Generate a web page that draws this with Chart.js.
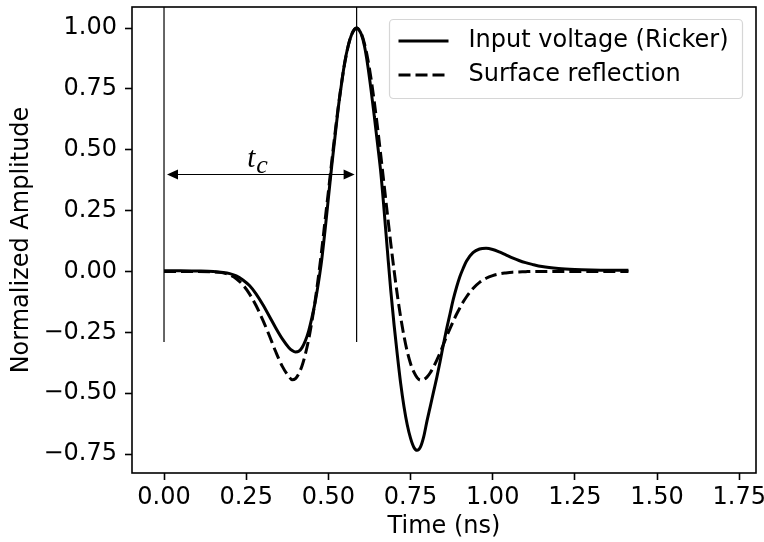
<!DOCTYPE html>
<html><head><meta charset="utf-8">
<script src="https://cdn.jsdelivr.net/npm/chart.js@4/dist/chart.umd.min.js"></script>
<style>html,body{margin:0;padding:0;background:#fff}#wrap{width:764px;height:542px}canvas{display:block}</style>
</head><body><div id="wrap"><canvas id="c" width="764" height="542"></canvas></div>
<script>
const timeNs = [0, 0.05, 0.10, 0.15, 0.18, 0.20, 0.22, 0.24, 0.26, 0.28, 0.30, 0.32, 0.34, 0.36, 0.38,
  0.39, 0.40, 0.41, 0.42, 0.43, 0.44, 0.45, 0.46, 0.47, 0.48, 0.49, 0.50, 0.51, 0.52, 0.53, 0.54, 0.55, 0.56, 0.57, 0.58,
  0.586,
  0.59, 0.60, 0.61, 0.62, 0.63, 0.64, 0.65, 0.66, 0.67, 0.68, 0.69, 0.70, 0.71, 0.72, 0.73, 0.74, 0.75, 0.76, 0.77, 0.78,
  0.79, 0.80, 0.81, 0.82, 0.83, 0.84, 0.85, 0.86, 0.87, 0.88, 0.89, 0.90, 0.91, 0.92,
  0.94, 0.96, 0.98, 1.00, 1.02, 1.04, 1.06, 1.08, 1.10, 1.12,
  1.15, 1.20, 1.25, 1.30, 1.35, 1.413];
const inputVoltage = [0.003, 0.003, 0.002, 0.000,
  -0.004, -0.009, -0.018, -0.035, -0.058, -0.092, -0.135, -0.183, -0.232, -0.277, -0.313,
  -0.325, -0.331, -0.328, -0.313, -0.285, -0.245, -0.19, -0.125, -0.045, 0.05, 0.17, 0.30, 0.43, 0.55, 0.67, 0.77, 0.86, 0.925, 0.97, 0.995,
  1.0,
  0.997, 0.975, 0.925, 0.845, 0.745, 0.635, 0.52, 0.40, 0.245, 0.08, -0.08, -0.22, -0.345, -0.46, -0.555, -0.63, -0.685, -0.722, -0.735, -0.722,
  -0.68, -0.615, -0.555, -0.495, -0.435, -0.37, -0.30, -0.235, -0.175, -0.115, -0.065, -0.022, 0.012, 0.042,
  0.077, 0.092, 0.095, 0.09, 0.08, 0.068, 0.056, 0.045, 0.036, 0.029,
  0.02, 0.012, 0.008, 0.006, 0.005, 0.005];
const surfaceReflection = [0.0, 0.0, 0.0, -0.002,
  -0.006, -0.014, -0.03, -0.055, -0.092, -0.14, -0.198, -0.262, -0.33, -0.39, -0.432,
  -0.445, -0.44, -0.42, -0.387, -0.34, -0.28, -0.205, -0.118, -0.02, 0.09, 0.21, 0.327, 0.447, 0.564, 0.674, 0.773, 0.857, 0.924, 0.971, 0.996,
  1.0,
  0.998, 0.978, 0.935, 0.872, 0.791, 0.694, 0.587, 0.471, 0.351, 0.231, 0.114, 0.004, -0.098, -0.188, -0.265, -0.329, -0.378, -0.413, -0.436, -0.446,
  -0.444, -0.434, -0.416, -0.392, -0.364, -0.334, -0.30, -0.266, -0.235, -0.205, -0.176, -0.15, -0.126, -0.105,
  -0.07, -0.045, -0.028, -0.017, -0.01, -0.006, -0.003, -0.002, -0.001, 0.0,
  0.0, 0.0, 0.0, 0.0, 0.0, 0.0];
const seriesLabels = ['Input voltage (Ricker)', 'Surface reflection'];
const xTicks = [0, 0.25, 0.5, 0.75, 1.0, 1.25, 1.5, 1.75];
const yTicks = [-0.75, -0.5, -0.25, 0, 0.25, 0.5, 0.75, 1.0];
const xRange = [-0.0974, 1.8011];
const yRange = [-0.828, 1.0863];
const markerTimes = [0, 0.586];
const markerSpan = [-0.29, 1.2];
const arrowLevel = 0.4;
const arrowLabelPos = [0.283, 0.43];

const FONT = 'DejaVu Sans';
const FS = 24;
const fmt = v => v.toFixed(2).replace('-', '\u2212');

function pts(ys) { return timeNs.map((t, i) => ({x: t, y: ys[i]})); }

const datasets = [
  {label: seriesLabels[0], data: pts(inputVoltage), borderColor: '#000', borderWidth: 3, pointRadius: 0, cubicInterpolationMode: 'monotone', fill: false},
  {label: seriesLabels[1], data: pts(surfaceReflection), borderColor: '#000', borderWidth: 3, borderDash: [12, 5], pointRadius: 0, cubicInterpolationMode: 'monotone', fill: false}
];
markerTimes.forEach(t => datasets.push({
  label: '_marker', data: [{x: t, y: markerSpan[0]}, {x: t, y: markerSpan[1]}],
  borderColor: '#000', borderWidth: 1.2, pointRadius: 0, fill: false
}));

const framePlugin = {
  id: 'frame',
  afterDraw(chart) {
    const {ctx, chartArea: a, scales: {x, y}} = chart;
    ctx.save();
    // arrow
    const yA = Math.round(y.getPixelForValue(arrowLevel)) + 0.5;
    const x0 = x.getPixelForValue(markerTimes[0]) + 3;
    const x1 = x.getPixelForValue(markerTimes[1]) - 2;
    ctx.strokeStyle = '#000'; ctx.fillStyle = '#000'; ctx.lineWidth = 1.2;
    ctx.beginPath(); ctx.moveTo(x0 + 6, yA); ctx.lineTo(x1 - 6, yA); ctx.stroke();
    ctx.beginPath(); ctx.moveTo(x0, yA); ctx.lineTo(x0 + 11, yA - 5); ctx.lineTo(x0 + 11, yA + 5); ctx.closePath(); ctx.fill();
    ctx.beginPath(); ctx.moveTo(x1, yA); ctx.lineTo(x1 - 11, yA - 5); ctx.lineTo(x1 - 11, yA + 5); ctx.closePath(); ctx.fill();
    // label t_c
    const lx = x.getPixelForValue(arrowLabelPos[0]);
    const ly = y.getPixelForValue(arrowLabelPos[1]);
    ctx.textBaseline = 'alphabetic'; ctx.textAlign = 'left';
    ctx.font = 'italic 29px "Liberation Serif"';
    const tw = ctx.measureText('t').width;
    ctx.font = 'italic 26px "Liberation Serif"';
    const cw = ctx.measureText('c').width;
    const sx = lx - (tw + cw) / 2;
    ctx.font = 'italic 29px "Liberation Serif"';
    ctx.fillText('t', sx, ly);
    ctx.font = 'italic 26px "Liberation Serif"';
    ctx.fillText('c', sx + tw + 1, ly + 6);
    // frame
    ctx.lineWidth = 1.6; ctx.strokeStyle = '#000';
    ctx.strokeRect(a.left, a.top, a.right - a.left, a.bottom - a.top);
    // legend
    const bw = 353, bh = 79;
    const bx = a.right - 13.5 - bw, by = a.top + 12.5;
    ctx.fillStyle = 'rgba(255,255,255,0.8)';
    ctx.strokeStyle = 'rgba(204,204,204,0.8)'; ctx.lineWidth = 1.2;
    ctx.beginPath();
    if (ctx.roundRect) ctx.roundRect(bx, by, bw, bh, 4); else ctx.rect(bx, by, bw, bh);
    ctx.fill(); ctx.stroke();
    ctx.font = FS + 'px "' + FONT + '"';
    ctx.textBaseline = 'middle';
    const rows = [by + 21.5, by + 55.5];
    [0, 1].forEach(i => {
      const ds = chart.data.datasets[i];
      ctx.strokeStyle = '#000'; ctx.lineWidth = 3;
      ctx.setLineDash(ds.borderDash || []);
      ctx.beginPath(); ctx.moveTo(bx + 9, rows[i]); ctx.lineTo(bx + 59, rows[i]); ctx.stroke();
      ctx.setLineDash([]);
      ctx.fillStyle = '#000';
      ctx.fillText(ds.label, bx + 79, rows[i]);
    });
    ctx.restore();
  }
};

new Chart(document.getElementById('c'), {
  type: 'line',
  data: {datasets},
  options: {
    responsive: false, animation: false, devicePixelRatio: 1,
    layout: {padding: {left: 0, right: 8, top: 7, bottom: 0}},
    plugins: {legend: {display: false}, tooltip: {enabled: false}},
    scales: {
      x: {
        type: 'linear', min: xRange[0], max: xRange[1],
        afterBuildTicks: s => { s.ticks = xTicks.map(v => ({value: v})); },
        afterFit: s => { s.height = 69; s.paddingLeft = 0; s.paddingRight = 0; },
        border: {display: false},
        grid: {display: true, drawOnChartArea: false, drawTicks: true, tickLength: 7, tickWidth: 1.6, tickColor: '#000'},
        ticks: {color: '#000', font: {family: FONT, size: FS}, padding: 3, maxRotation: 0, autoSkip: false, callback: v => fmt(v)},
        title: {display: true, text: 'Time (ns)', color: '#000', font: {family: FONT, size: FS}, padding: {top: 0, bottom: 1}}
      },
      y: {
        type: 'linear', min: yRange[0], max: yRange[1],
        afterBuildTicks: s => { s.ticks = yTicks.map(v => ({value: v})); },
        afterFit: s => { s.width = 132; s.paddingTop = 0; s.paddingBottom = 0; },
        border: {display: false},
        grid: {display: true, drawOnChartArea: false, drawTicks: true, tickLength: 7, tickWidth: 1.6, tickColor: '#000'},
        ticks: {color: '#000', font: {family: FONT, size: FS}, padding: 8, autoSkip: false, callback: v => fmt(v)},
        title: {display: true, text: 'Normalized Amplitude', color: '#000', font: {family: FONT, size: FS}, padding: {top: 7, bottom: 0}}
      }
    }
  },
  plugins: [framePlugin]
});
</script>
</body></html>
